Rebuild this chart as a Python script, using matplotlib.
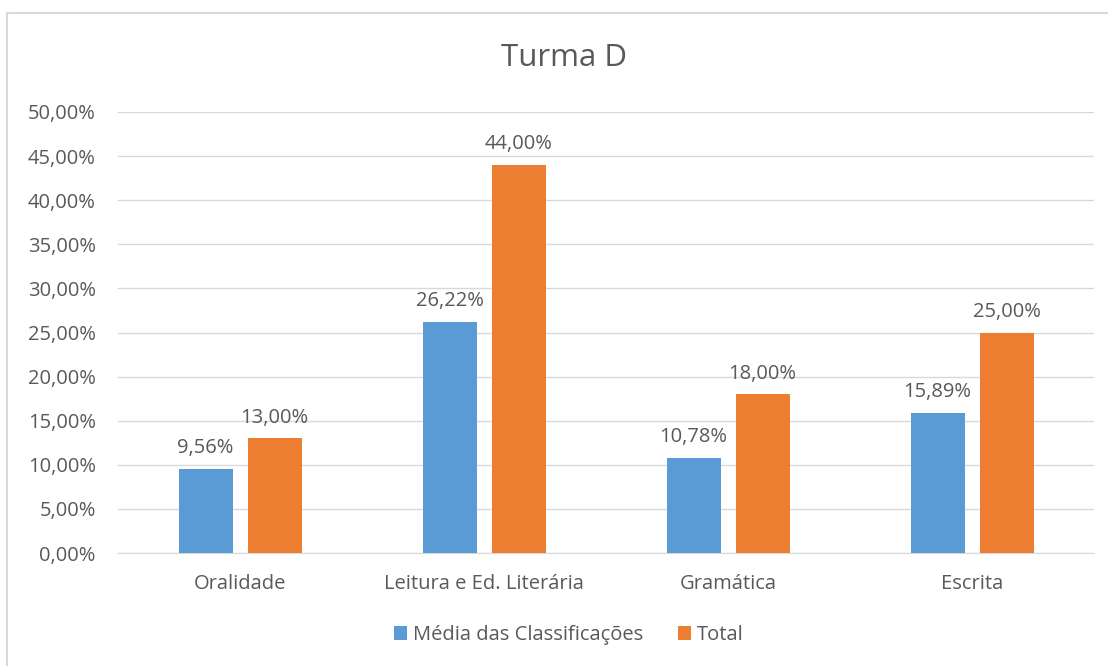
import matplotlib.pyplot as plt
import numpy as np
from matplotlib.patches import Rectangle

# Data
categories = ['Oralidade', 'Leitura e Ed. Literária', 'Gramática', 'Escrita']
media = [9.56, 26.22, 10.78, 15.89]
total = [13.00, 44.00, 18.00, 25.00]
series_names = ['Média das Classificações', 'Total']

blue = '#5B9BD5'
orange = '#ED7D31'
text_color = '#595959'
fs = 14.5

plt.rcParams['font.family'] = ['Open Sans', 'DejaVu Sans']

fig = plt.figure(figsize=(11.08, 6.66), dpi=100)
ax = fig.add_axes([118 / 1108, 113 / 666, 976 / 1108, 441 / 666])

# Light border around the chart area
fig.patches.append(Rectangle((7 / 1108, -0.1), 1.2, (666 - 13) / 666 + 0.1,
                             transform=fig.transFigure, fill=False,
                             edgecolor='#D9D9D9', linewidth=1.5))

x = np.arange(len(categories))
w = 54 / 244
off = (54 + 15) / 2 / 244

b1 = ax.bar(x - off, media, w, color=blue, label=series_names[0], zorder=3)
b2 = ax.bar(x + off, total, w, color=orange, label=series_names[1], zorder=3)

def fmt(v):
    return f'{v:.2f}%'.replace('.', ',')

for bars, vals in [(b1, media), (b2, total)]:
    for rect, v in zip(bars, vals):
        ax.text(rect.get_x() + rect.get_width() / 2, v + 1.2, fmt(v),
                ha='center', va='bottom', fontsize=fs, color=text_color)

ax.set_xlim(-0.5, 3.5)
ax.set_ylim(0, 50)
yt = np.arange(0, 55, 5)
ax.set_yticks(yt)
ax.set_yticklabels([fmt(v) for v in yt], fontsize=fs, color=text_color)
ax.set_xticks(x)
ax.set_xticklabels(categories, fontsize=fs, color=text_color)
ax.tick_params(axis='both', length=0)
ax.tick_params(axis='y', pad=16)
ax.tick_params(axis='x', pad=15)

ax.grid(axis='y', color='#D9D9D9', linewidth=1, zorder=0)
for s in ['top', 'right', 'left']:
    ax.spines[s].set_visible(False)
ax.spines['bottom'].set_color('#D9D9D9')

fig.text(564 / 1108, 1 - 58 / 666, 'Turma D', ha='center', va='center',
         fontsize=22.5, color=text_color)

fig.legend(handles=[b1, b2], loc='center', bbox_to_anchor=(569 / 1108, 1 - 635 / 666),
           ncol=2, frameon=False, fontsize=fs, labelcolor=text_color,
           handlelength=0.65, handleheight=0.65, handletextpad=0.3, columnspacing=1.7)

fig.savefig('out.png', dpi=100)
